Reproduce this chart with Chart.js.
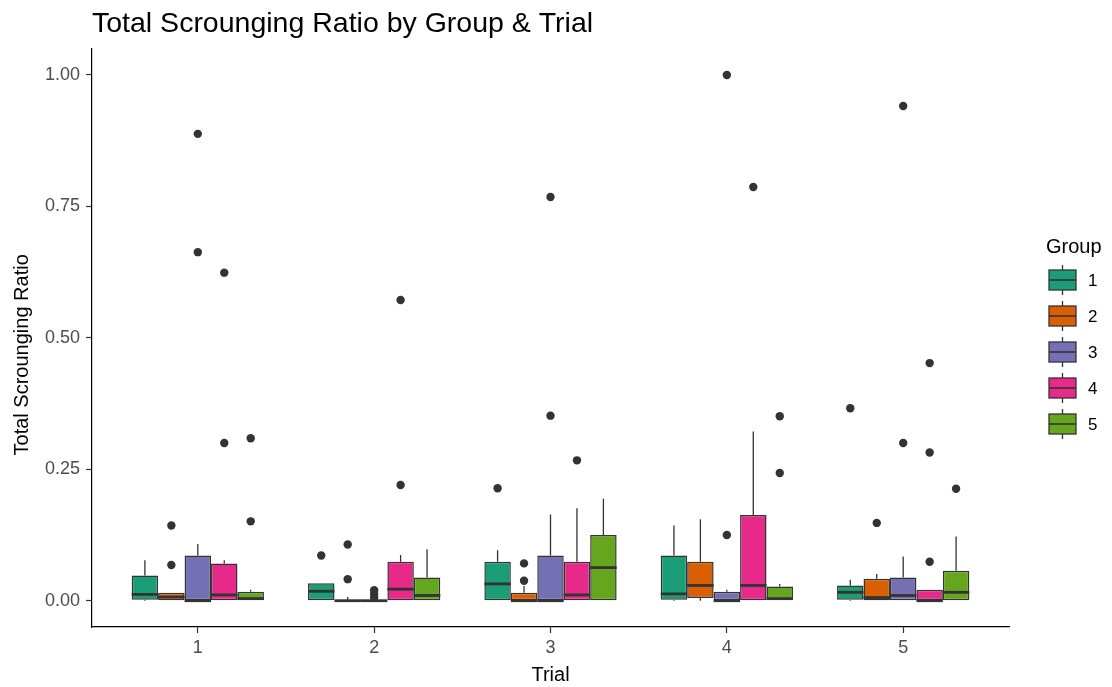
<!DOCTYPE html>
<html>
<head>
<meta charset="utf-8">
<script src="https://cdn.jsdelivr.net/npm/chart.js@4.4.1/dist/chart.umd.min.js"></script>
<style>
  html, body { margin: 0; padding: 0; background: #ffffff; }
  #wrap { width: 1112px; height: 687px; position: relative; }
</style>
</head>
<body>
<div id="wrap"><canvas id="chart"></canvas></div>
<script>
// Trials along the x axis, one box per group inside each trial
const trials = ['1', '2', '3', '4', '5'];
const groups = ['1', '2', '3', '4', '5'];

// Box statistics: one row per group, one column per trial
const lowerWhisker = [
  [0, 0, 0, 0, 0],
  [0, 0, 0, 0, 0],
  [0, 0, 0, 0, 0],
  [0, 0, 0, 0, 0],
  [0, 0, 0, 0, 0]
];
const q1 = [
  [0.002, 0.000, 0.000, 0.002, 0.002],
  [0.000, 0.000, 0.000, 0.005, 0.000],
  [0.000, 0.000, 0.000, 0.000, 0.000],
  [0.000, 0.000, 0.000, 0.000, 0.000],
  [0.000, 0.000, 0.000, 0.000, 0.000]
];
const median = [
  [0.012, 0.018, 0.032, 0.013, 0.016],
  [0.007, 0.000, 0.000, 0.029, 0.006],
  [0.000, 0.000, 0.000, 0.000, 0.010],
  [0.011, 0.022, 0.011, 0.029, 0.000],
  [0.004, 0.010, 0.063, 0.004, 0.016]
];
const q3 = [
  [0.048, 0.033, 0.074, 0.086, 0.029],
  [0.015, 0.000, 0.015, 0.074, 0.042],
  [0.086, 0.000, 0.086, 0.017, 0.044],
  [0.071, 0.074, 0.074, 0.163, 0.021],
  [0.017, 0.044, 0.125, 0.027, 0.057]
];
const upperWhisker = [
  [0.077, 0.033, 0.096, 0.143, 0.040],
  [0.015, 0.007, 0.028, 0.155, 0.051],
  [0.108, 0.000, 0.164, 0.021, 0.084],
  [0.077, 0.087, 0.176, 0.322, 0.021],
  [0.021, 0.098, 0.194, 0.032, 0.122]
];
const outliers = [
  [[], [0.086], [0.214], [], [0.366]],
  [[0.068, 0.143], [0.041, 0.107], [0.038, 0.071], [], [0.148]],
  [[0.663, 0.888], [0.006, 0.013, 0.020], [0.352, 0.768], [0.125, 1.000], [0.300, 0.941]],
  [[0.300, 0.624], [0.220, 0.572], [0.267], [0.787], [0.074, 0.282, 0.452]],
  [[0.151, 0.309], [], [], [0.243, 0.351], [0.213]]
];
const yTicks = [0, 0.25, 0.5, 0.75, 1];

const palette = ['#1B9E77', '#D95F02', '#7570B3', '#E7298A', '#66A61E'];
const ink = '#333333';
const FONT = "'Liberation Sans', Arial, sans-serif";

// Box width share of each trial slot, split evenly between the groups
const DODGE = 0.75;

// Floating bars span Q1..Q3 for every group
const boxDatasets = groups.map((g, gi) => ({
  type: 'bar',
  label: g,
  data: trials.map((t, ti) => ({ x: Number(t), y: [q1[gi][ti], q3[gi][ti]] })),
  backgroundColor: palette[gi],
  borderColor: ink,
  borderWidth: 1.5,
  borderSkipped: false,
  categoryPercentage: DODGE,
  barPercentage: 1.0,
  order: 1
}));

// Outlying values, placed at the centre of their group's box
const slot = DODGE / groups.length;
const outlierDatasets = groups.map((g, gi) => ({
  type: 'scatter',
  label: 'outliers ' + g,
  data: trials.flatMap((t, ti) =>
    outliers[gi][ti].map(v => ({ x: Number(t) + (gi - (groups.length - 1) / 2) * slot, y: v }))),
  backgroundColor: ink,
  borderColor: ink,
  borderWidth: 0,
  pointRadius: 4.2,
  pointHoverRadius: 4.2,
  order: 2
}));

// Whiskers underneath the boxes, medians on top of them
const boxWhiskers = {
  id: 'boxWhiskers',
  beforeDatasetsDraw(chart) {
    const ctx = chart.ctx;
    const y = chart.scales.y;
    ctx.save();
    ctx.strokeStyle = ink;
    ctx.lineWidth = 1.3;
    boxDatasets.forEach((ds, gi) => {
      const meta = chart.getDatasetMeta(gi);
      meta.data.forEach((bar, ti) => {
        const cx = bar.x;
        ctx.beginPath();
        ctx.moveTo(cx, y.getPixelForValue(q3[gi][ti]));
        ctx.lineTo(cx, y.getPixelForValue(upperWhisker[gi][ti]));
        ctx.moveTo(cx, y.getPixelForValue(q1[gi][ti]));
        ctx.lineTo(cx, y.getPixelForValue(lowerWhisker[gi][ti]));
        ctx.stroke();
      });
    });
    ctx.restore();
  },
  afterDatasetsDraw(chart) {
    const ctx = chart.ctx;
    const y = chart.scales.y;
    ctx.save();
    ctx.strokeStyle = ink;
    ctx.lineWidth = 2.8;
    ctx.lineCap = 'butt';
    boxDatasets.forEach((ds, gi) => {
      const meta = chart.getDatasetMeta(gi);
      meta.data.forEach((bar, ti) => {
        const { x, width } = bar.getProps(['x', 'width'], true);
        const py = y.getPixelForValue(median[gi][ti]);
        ctx.beginPath();
        ctx.moveTo(x - width / 2, py);
        ctx.lineTo(x + width / 2, py);
        ctx.stroke();
      });
    });
    ctx.restore();
  }
};

// Vertical axis title, and the legend with box glyphs right of the panel
const sideText = {
  id: 'sideText',
  afterDraw(chart) {
    const ctx = chart.ctx;
    const area = chart.chartArea;
    ctx.save();
    ctx.fillStyle = '#000000';
    ctx.font = '20px ' + FONT;
    ctx.textAlign = 'center';
    ctx.textBaseline = 'middle';
    ctx.translate(22, area.top + (area.bottom - area.top) / 2 + 17);
    ctx.rotate(-Math.PI / 2);
    ctx.fillText('Total Scrounging Ratio', 0, 0);
    ctx.restore();

    const left = area.right + 37;
    ctx.save();
    ctx.fillStyle = '#000000';
    ctx.font = '20px ' + FONT;
    ctx.textAlign = 'left';
    ctx.textBaseline = 'alphabetic';
    ctx.fillText('Group', left, 253);
    boxDatasets.forEach((ds, gi) => {
      const cy = 280 + gi * 36;
      const bx = left + 3, bw = 27, bh = 20;
      const cx = bx + bw / 2;
      ctx.strokeStyle = ink;
      ctx.lineWidth = 1.3;
      ctx.beginPath();
      ctx.moveTo(cx, cy - 15); ctx.lineTo(cx, cy + 15);
      ctx.stroke();
      ctx.fillStyle = ds.backgroundColor;
      ctx.fillRect(bx, cy - bh / 2, bw, bh);
      ctx.strokeRect(bx, cy - bh / 2, bw, bh);
      ctx.lineWidth = 1.6;
      ctx.beginPath();
      ctx.moveTo(bx, cy); ctx.lineTo(bx + bw, cy);
      ctx.stroke();
      ctx.fillStyle = '#000000';
      ctx.font = '17px ' + FONT;
      ctx.fillText(ds.label, bx + bw + 12, cy + 6);
    });
    ctx.restore();
  }
};

// Tick marks only, outside the panel
const axisGrid = {
  display: true,
  offset: false,
  drawOnChartArea: false,
  drawTicks: true,
  tickLength: 6,
  color: ink,
  tickColor: ink,
  tickWidth: 1.2
};

new Chart(document.getElementById('chart'), {
  type: 'bar',
  data: { datasets: [...boxDatasets, ...outlierDatasets] },
  options: {
    responsive: true,
    maintainAspectRatio: false,
    animation: false,
    layout: { padding: { left: 0, right: 103, top: 0, bottom: 0 } },
    plugins: {
      legend: { display: false },
      tooltip: { enabled: false },
      title: {
        display: true,
        text: 'Total Scrounging Ratio by Group & Trial',
        align: 'start',
        fullSize: false,
        color: '#000000',
        font: { family: FONT, size: 28.5, weight: 'normal', lineHeight: 1.2 },
        padding: { top: 7, bottom: 7.5 }
      }
    },
    scales: {
      x: {
        type: 'linear',
        min: 0.4,
        max: 5.6,
        offset: false,
        afterBuildTicks: s => { s.ticks = trials.map(t => ({ value: Number(t) })); },
        afterFit: s => { s.height = 60; },
        ticks: {
          color: '#4d4d4d',
          font: { family: FONT, size: 18 },
          padding: 4,
          callback: v => String(v)
        },
        grid: axisGrid,
        border: { display: true, color: '#000000', width: 1.2 },
        title: {
          display: true,
          text: 'Trial',
          color: '#000000',
          font: { family: FONT, size: 20, lineHeight: 1.2 },
          padding: { top: 0, bottom: 0 }
        }
      },
      y: {
        type: 'linear',
        min: -0.05,
        max: 1.05,
        afterBuildTicks: s => { s.ticks = yTicks.map(v => ({ value: v })); },
        afterFit: s => { s.width = 92; },
        ticks: {
          color: '#4d4d4d',
          font: { family: FONT, size: 18 },
          padding: 6,
          callback: v => Number(v).toFixed(2)
        },
        grid: axisGrid,
        border: { display: true, color: '#000000', width: 1.2 },
        title: { display: false }
      }
    }
  },
  plugins: [boxWhiskers, sideText]
});
</script>
</body>
</html>
